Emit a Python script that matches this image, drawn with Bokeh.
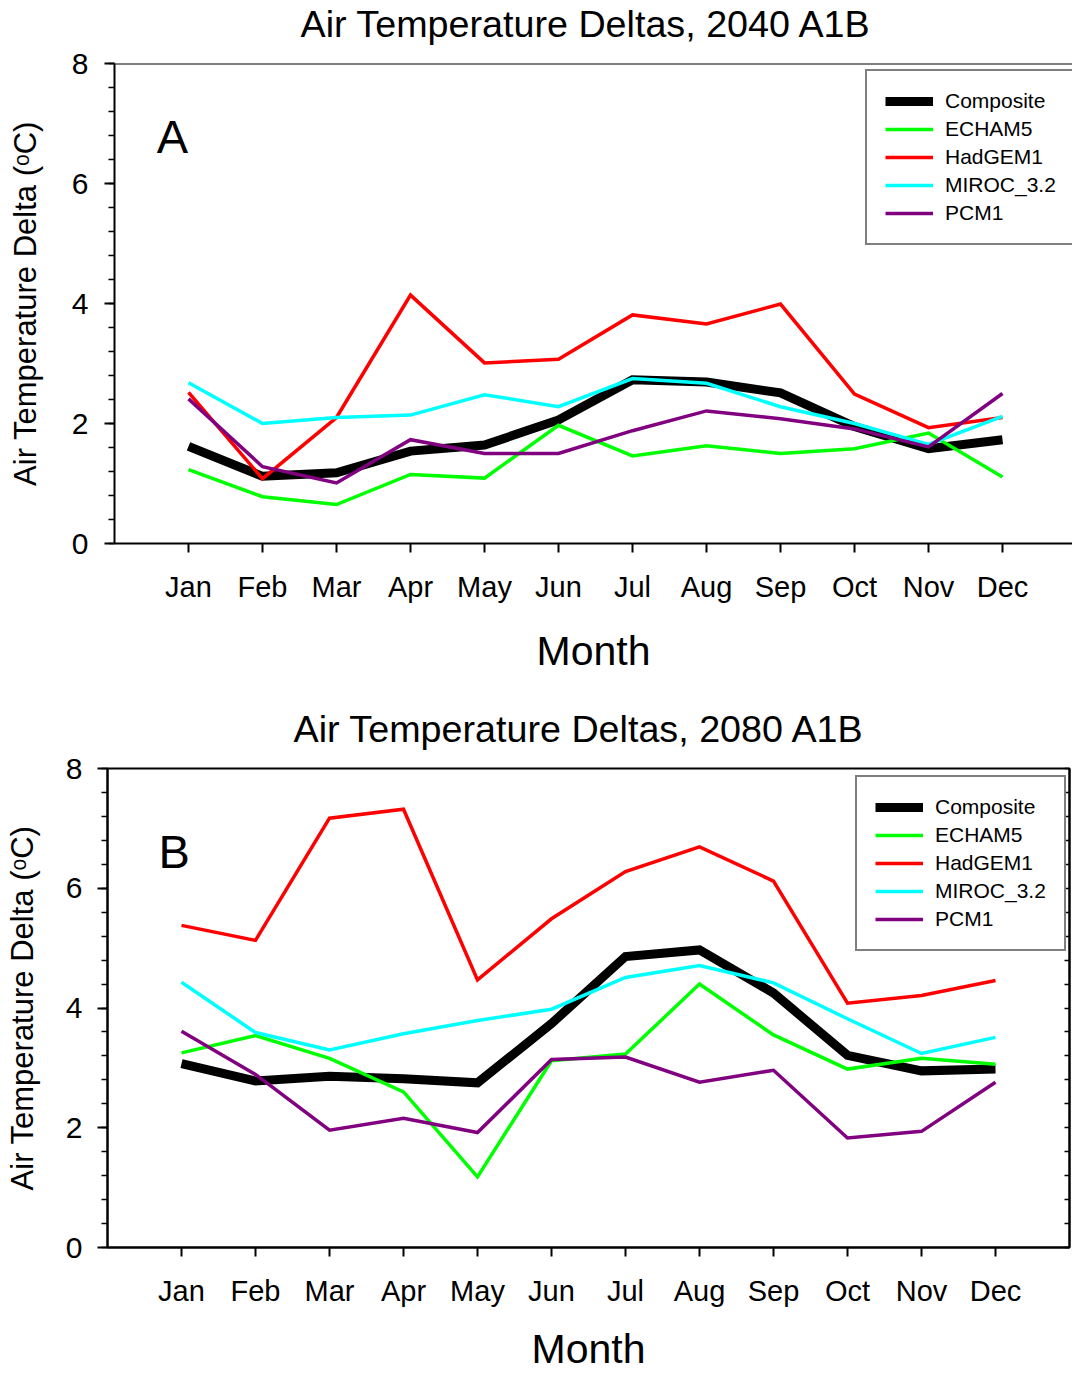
from bokeh.plotting import figure
from bokeh.models import (FixedTicker, SingleIntervalTicker, LinearAxis, Range1d,
                          Span, Label, Legend, LegendItem)
from bokeh.embed import file_html
from bokeh.resources import INLINE

FONT = "Liberation Sans"

months = ["Jan", "Feb", "Mar", "Apr", "May", "Jun",
          "Jul", "Aug", "Sep", "Oct", "Nov", "Dec"]
month_num = list(range(1, 13))

model_names = ["Composite", "ECHAM5", "HadGEM1", "MIROC_3.2", "PCM1"]
model_colors = ["#000000", "#00FF00", "#FF0000", "#00FFFF", "#800080"]
model_widths = [9, 3.5, 3.5, 3.5, 3.5]

# Monthly air temperature deltas (degC), 2040 A1B
composite_2040 = [1.62, 1.12, 1.18, 1.54, 1.64, 2.06, 2.73, 2.69, 2.51, 1.95, 1.58, 1.73]
echam5_2040 = [1.23, 0.78, 0.65, 1.15, 1.09, 1.97, 1.46, 1.63, 1.50, 1.58, 1.84, 1.11]
hadgem1_2040 = [2.52, 1.08, 2.10, 4.14, 3.01, 3.07, 3.81, 3.66, 3.99, 2.49, 1.93, 2.10]
miroc_2040 = [2.68, 2.00, 2.10, 2.14, 2.48, 2.28, 2.75, 2.67, 2.28, 2.00, 1.65, 2.12]
pcm1_2040 = [2.41, 1.28, 1.01, 1.73, 1.50, 1.50, 1.88, 2.21, 2.08, 1.91, 1.61, 2.50]

# Monthly air temperature deltas (degC), 2080 A1B
composite_2080 = [3.07, 2.78, 2.86, 2.82, 2.75, 3.74, 4.86, 4.97, 4.25, 3.21, 2.95, 2.98]
echam5_2080 = [3.25, 3.54, 3.16, 2.60, 1.18, 3.12, 3.23, 4.40, 3.55, 2.98, 3.16, 3.06]
hadgem1_2080 = [5.38, 5.13, 7.17, 7.32, 4.47, 5.49, 6.28, 6.69, 6.12, 4.08, 4.21, 4.46]
miroc_2080 = [4.43, 3.59, 3.30, 3.57, 3.79, 3.98, 4.51, 4.71, 4.42, 3.82, 3.24, 3.51]
pcm1_2080 = [3.61, 2.89, 1.96, 2.16, 1.92, 3.14, 3.18, 2.76, 2.96, 1.83, 1.94, 2.76]

series_2040 = [composite_2040, echam5_2040, hadgem1_2040, miroc_2040, pcm1_2040]
series_2080 = [composite_2080, echam5_2080, hadgem1_2080, miroc_2080, pcm1_2080]

TOP_BORDER = 86  # room reserved above each plot area for its heading


def make_panel(title, letter, letter_pos, series, height, lift, frame_left, x_end,
               border_bottom, border_right, legend_xy, closed_frame,
               ytick_standoff, ylabel_standoff, xlabel_standoff):
    p = figure(width=1072, height=height,
               x_range=Range1d(0, x_end), y_range=Range1d(0, 8),
               toolbar_location=None, output_backend="svg",
               min_border_left=frame_left, min_border_right=border_right,
               min_border_top=TOP_BORDER, min_border_bottom=border_bottom,
               styles={"margin-top": f"-{lift}px"})
    p.grid.visible = False
    p.background_fill_color = "white"
    p.border_fill_color = "white"

    p.title.text = title
    p.title.text_font = FONT
    p.title.text_font_size = "37.7px"
    p.title.text_font_style = "normal"
    p.title.text_color = "black"
    p.title.align = "left"
    p.title.offset = 186
    p.title.standoff = 37

    xa = p.xaxis[0]
    xa.ticker = FixedTicker(ticks=month_num, minor_ticks=[])
    xa.major_label_overrides = {m: lab for m, lab in zip(month_num, months)}
    xa.major_tick_out = 9
    xa.major_tick_in = 0
    xa.minor_tick_out = 0
    xa.axis_line_width = 2
    xa.major_tick_line_width = 2
    xa.major_label_text_font = FONT
    xa.major_label_text_font_size = "29px"
    xa.major_label_text_color = "black"
    xa.major_label_standoff = 18
    xa.axis_label = "Month"
    xa.axis_label_text_font = FONT
    xa.axis_label_text_font_size = "41px"
    xa.axis_label_text_font_style = "normal"
    xa.axis_label_text_color = "black"
    xa.axis_label_standoff = xlabel_standoff

    ya = p.yaxis[0]
    ya.ticker = SingleIntervalTicker(interval=2, num_minor_ticks=5)
    ya.major_tick_out = 10
    ya.major_tick_in = 0
    ya.minor_tick_out = 6
    ya.minor_tick_in = 0
    ya.axis_line_width = 2
    ya.major_tick_line_width = 2
    ya.minor_tick_line_width = 1.5
    ya.major_label_text_font = FONT
    ya.major_label_text_font_size = "30px"
    ya.major_label_text_color = "black"
    ya.major_label_standoff = ytick_standoff
    ya.axis_label = "Air Temperature Delta (\u1d52C)"
    ya.axis_label_text_font = FONT
    ya.axis_label_text_font_size = "31px"
    ya.axis_label_text_font_style = "normal"
    ya.axis_label_text_color = "black"
    ya.axis_label_standoff = ylabel_standoff

    if closed_frame:
        p.outline_line_color = "black"
        p.outline_line_width = 2
        # inward tick marks along the right edge, no labels
        right_ticks = [i * 0.4 for i in range(21)]
        ra = LinearAxis(ticker=FixedTicker(ticks=[], minor_ticks=right_ticks),
                        major_tick_in=0, major_tick_out=0,
                        minor_tick_in=5, minor_tick_out=0,
                        major_label_standoff=0,
                        axis_line_width=2, minor_tick_line_width=1.5)
        p.add_layout(ra, "right")
    else:
        p.outline_line_color = None
        p.add_layout(Span(location=8, dimension="width",
                          line_color="black", line_width=2))

    items = []
    for name, vals, color, lw in zip(model_names, series, model_colors, model_widths):
        r = p.line(month_num, vals, line_color=color, line_width=lw,
                   line_join="miter")
        items.append(LegendItem(label=name, renderers=[r]))

    legend = Legend(items=items, location=legend_xy, margin=0,
                    padding=18, spacing=4, glyph_width=48, glyph_height=24,
                    label_height=24, label_standoff=12,
                    label_text_font=FONT, label_text_font_size="21px",
                    label_text_color="black",
                    border_line_color="black", border_line_width=2,
                    background_fill_color="white", background_fill_alpha=1)
    p.add_layout(legend)

    p.add_layout(Label(x=letter_pos[0], y=letter_pos[1], text=letter,
                       text_font=FONT, text_font_size="47px",
                       text_baseline="alphabetic", text_color="black"))
    return p


# upper panel: plot area spans y = 63..543 on the page
p1 = make_panel("Air Temperature Deltas, 2040 A1B", "A", (0.57, 6.78),
                series_2040, height=713, lift=TOP_BORDER - 63,
                frame_left=114, x_end=(1072 - 114) / 74,
                border_bottom=147, border_right=0,
                legend_xy=(751, 298), closed_frame=False,
                ytick_standoff=16, ylabel_standoff=26, xlabel_standoff=22)
# lower panel: plot area spans y = 768..1247 on the page
p2 = make_panel("Air Temperature Deltas, 2080 A1B", "B", (0.69, 6.61),
                series_2080, height=692, lift=TOP_BORDER - 78,
                frame_left=107, x_end=13,
                border_bottom=127, border_right=3,
                legend_xy=(748, 296), closed_frame=True,
                ytick_standoff=15, ylabel_standoff=23, xlabel_standoff=16)

open("out.html", "w").write(file_html([p1, p2], INLINE))
